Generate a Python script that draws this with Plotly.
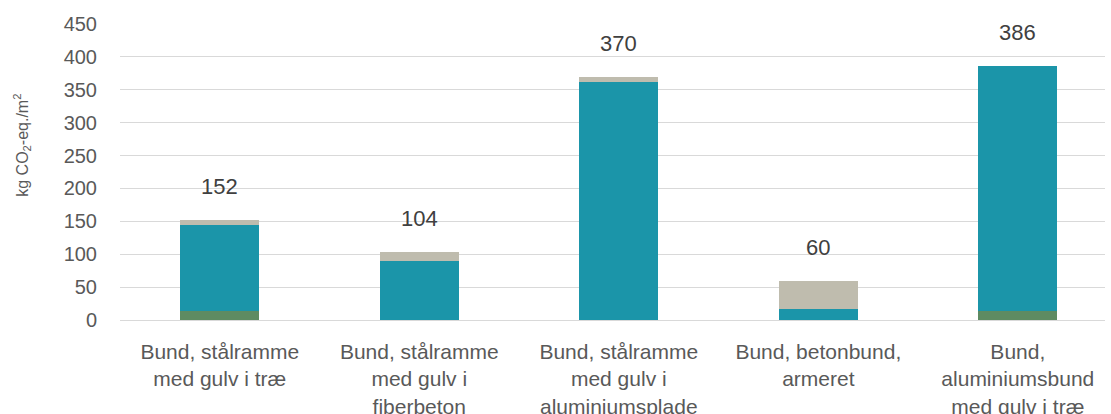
import plotly.graph_objects as go

categories = [
    "Bund, stålramme<br>med gulv i træ",
    "Bund, stålramme<br>med gulv i<br>fiberbeton",
    "Bund, stålramme<br>med gulv i<br>aluminiumsplade",
    "Bund, betonbund,<br>armeret",
    "Bund,<br>aluminiumsbund<br>med gulv i træ",
]

# stacked contributions, kg CO2-eq./m2 (bottom to top)
seg_green = [13, 0, 0, 0, 13]
seg_teal = [132, 90, 362, 16, 373]
seg_grey = [7, 14, 8, 44, 0]

totals = [g + t + r for g, t, r in zip(seg_green, seg_teal, seg_grey)]
x_pos = list(range(len(categories)))

FONT = "Liberation Sans, Arial, sans-serif"
BAR_W = 0.396

fig = go.Figure()
for vals, color in [(seg_green, "#5e8b62"), (seg_teal, "#1b95a9"), (seg_grey, "#bfbcae")]:
    fig.add_trace(go.Bar(
        x=x_pos, y=vals, width=BAR_W,
        marker=dict(color=color, line=dict(width=0)),
        showlegend=False, hoverinfo="skip",
    ))

for xi, tot in zip(x_pos, totals):
    fig.add_annotation(
        x=xi, y=tot, text=str(tot), showarrow=False,
        yanchor="bottom", yshift=19,
        font=dict(family=FONT, size=22, color="#404040"),
    )

fig.add_annotation(
    xref="paper", yref="paper", x=-0.0995, y=0.592,
    text="kg CO<sub>2</sub>-eq./m<sup>2</sup>", textangle=-90,
    showarrow=False, xanchor="center", yanchor="middle",
    font=dict(family=FONT, size=16, color="#595959"),
)

fig.update_layout(
    width=1111, height=414,
    margin=dict(l=120, r=6, t=24, b=94, autoexpand=False),
    barmode="stack",
    plot_bgcolor="white", paper_bgcolor="white",
    font=dict(family=FONT, color="#595959"),
)
fig.update_xaxes(
    range=[-0.5, 4.437], automargin=False,
    tickmode="array", tickvals=x_pos, ticktext=categories,
    tickfont=dict(family=FONT, size=21, color="#595959"),
    showgrid=False, zeroline=False, showline=False, ticks="",
    ticklabelstandoff=17,
)
fig.update_yaxes(
    range=[0, 450], dtick=50, automargin=False,
    tickfont=dict(family=FONT, size=20, color="#595959"),
    showgrid=True, gridcolor="#d9d9d9", gridwidth=1.3,
    zeroline=True, zerolinecolor="#d9d9d9", zerolinewidth=1.3,
    showline=False, ticks="", ticklabelstandoff=22,
)

fig.write_html("out.html")
